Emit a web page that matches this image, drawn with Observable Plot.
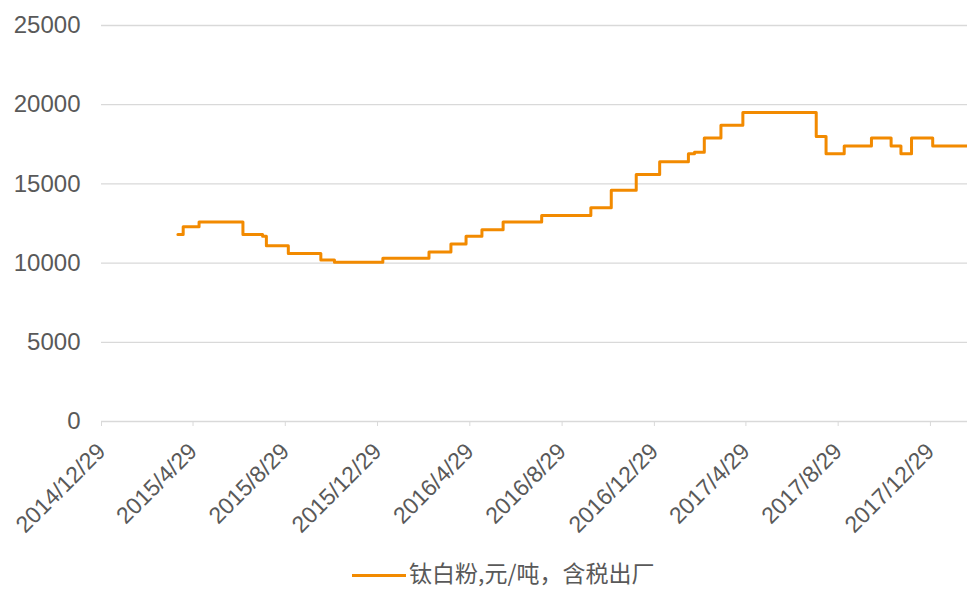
<!DOCTYPE html>
<html>
<head>
<meta charset="utf-8">
<script src="https://cdn.jsdelivr.net/npm/d3@7"></script>
<script src="https://cdn.jsdelivr.net/npm/@observablehq/plot@0.6"></script>
<style>
  html, body { margin: 0; padding: 0; background: #fff; }
  #wrap { position: relative; width: 967px; height: 589px; overflow: hidden; background: #fff; }
  #legend { position: absolute; left: 0; top: 555px; width: 967px; height: 34px; }
  #legend .swatch { position: absolute; left: 352px; top: 19px; width: 54px; height: 3px; background: #F28A00; }
  #legend .label { position: absolute; left: 409px; top: 0; line-height: normal; font-size: 23px; color: #595959;
    font-family: "Noto Sans CJK SC", "Noto Sans", sans-serif; white-space: nowrap; }
</style>
</head>
<body>
<div id="wrap">
  <div id="chart"></div>
  <div id="legend"><span class="swatch"></span><span class="label" id="legendLabel"></span></div>
</div>
<script>
// ---- data ----
const seriesName = "钛白粉,元/吨，含税出厂";
const dates = [
  "2015-04-09","2015-04-16","2015-05-07","2015-07-04","2015-07-30","2015-08-04",
  "2015-09-02","2015-10-15","2015-11-02","2016-01-05","2016-03-06","2016-04-04",
  "2016-04-24","2016-05-15","2016-06-12","2016-08-02","2016-10-06","2016-11-02",
  "2016-12-05","2017-01-05","2017-02-12","2017-02-20","2017-03-05","2017-03-27",
  "2017-04-25","2017-07-31","2017-08-13","2017-09-06","2017-10-12","2017-11-07",
  "2017-11-20","2017-12-04","2018-01-01","2018-02-16"
];
const prices = [
  11800, 12300, 12600, 11800, 11700, 11100,
  10600, 10200, 10050, 10300, 10700, 11200,
  11700, 12100, 12600, 13000, 13500, 14600,
  15600, 16400, 16900, 17000, 17900, 18700,
  19500, 18000, 16900, 17400, 17900, 17400,
  16900, 17900, 17400, 17400
];
const xTickLabels = [
  "2014/12/29","2015/4/29","2015/8/29","2015/12/29","2016/4/29","2016/8/29",
  "2016/12/29","2017/4/29","2017/8/29","2017/12/29"
];
const xDomain = ["2014-12-29", "2018-02-16"];
const yTicks = [0, 5000, 10000, 15000, 20000, 25000];

// ---- build ----
const parseLabel = s => { const [y, m, d] = s.split("/").map(Number); return new Date(Date.UTC(y, m - 1, d)); };
const fmt = d => `${d.getUTCFullYear()}/${d.getUTCMonth() + 1}/${d.getUTCDate()}`;
const table = dates.map((d, i) => ({date: new Date(d + "T00:00:00Z"), price: prices[i]}));
const xTicks = xTickLabels.map(parseLabel);

const chart = Plot.plot({
  width: 967,
  height: 555,
  marginLeft: 101,
  marginRight: 0,
  marginTop: 25,
  marginBottom: 134,
  style: {background: "#fff", fontFamily: "'Liberation Sans', Arial, sans-serif", overflow: "visible"},
  x: {type: "utc", domain: xDomain.map(d => new Date(d + "T00:00:00Z"))},
  y: {domain: [0, 25000]},
  marks: [
    Plot.ruleY(yTicks, {stroke: "#d9d9d9", strokeWidth: 1.3}),
    Plot.axisY({ticks: yTicks, tickSize: 0, tickPadding: 21, tickFormat: d => String(d),
      fontSize: 24, fill: "#595959", label: null}),
    Plot.axisX({ticks: xTicks, tickSize: 5, stroke: "#d9d9d9", fill: "#595959", tickRotate: -45,
      fontSize: 23, tickFormat: fmt, tickPadding: 21, label: null}),
    Plot.line(table, {x: "date", y: "price", curve: "step-after", stroke: "#F28A00", strokeWidth: 3})
  ]
});
document.getElementById("chart").appendChild(chart);
document.getElementById("legendLabel").textContent = seriesName;
</script>
</body>
</html>
